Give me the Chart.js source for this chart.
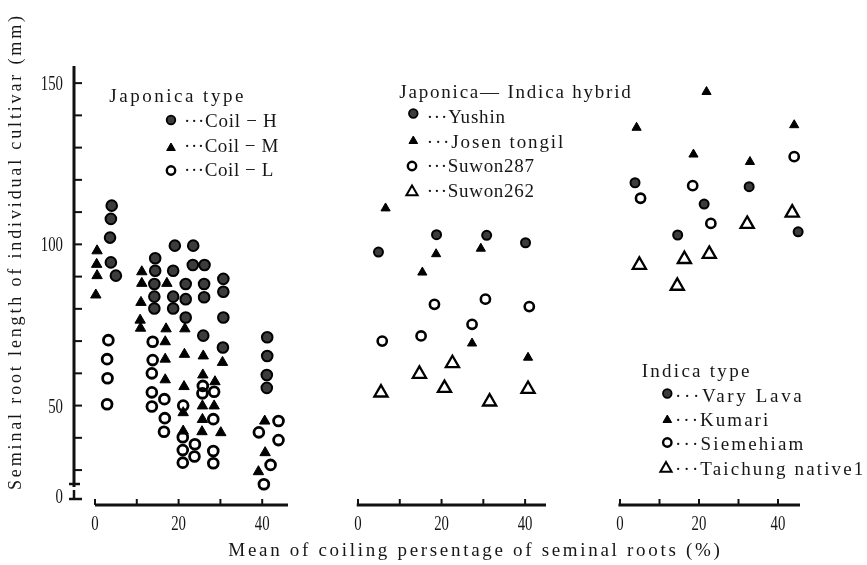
<!DOCTYPE html>
<html><head><meta charset="utf-8">
<script src="https://cdn.jsdelivr.net/npm/chart.js@4.4.0/dist/chart.umd.min.js"></script>
<style>
html,body{margin:0;padding:0;background:#fff;}
#wrap{position:relative;width:867px;height:565px;overflow:hidden;background:#fff;}
canvas{position:absolute;left:0;top:0;}
</style>
</head><body>
<div id="wrap">
<canvas id="c1" width="867" height="565"></canvas>
<canvas id="c2" width="867" height="565"></canvas>
<canvas id="c3" width="867" height="565"></canvas>
</div>
<script>
// ---------------- DATA ----------------
// x = mean coiling percentage of seminal roots (%), y = seminal root length (mm)
// Japonica type
const coilH = [[4.0,112.0],[3.8,107.9],[3.6,102.1],[3.8,94.4],[5.0,90.3],[14.4,95.7],[19.1,99.6],[23.5,99.6],
  [14.4,91.8],[18.7,91.8],[23.4,93.6],[26.2,93.6],[14.2,87.7],[21.7,87.7],[26.1,87.7],[30.7,89.3],
  [14.2,83.8],[18.7,83.8],[21.7,83.0],[26.1,83.6],[30.7,85.3],[14.2,80.1],[18.7,80.1],[21.7,77.3],
  [30.7,77.3],[25.9,71.7],[30.6,68.0],[41.2,71.2],[41.2,65.4],[41.1,59.5],[41.1,55.5]];
const coilM = [[0.5,98.0],[0.4,93.8],[0.5,90.3],[0.2,84.3],[11.2,91.5],[11.2,87.9],[17.2,87.9],[11.0,82.0],
  [10.8,76.5],[10.9,74.0],[17.0,73.8],[21.5,73.8],[16.8,69.8],[16.8,64.4],[21.4,65.9],[25.9,65.4],
  [30.5,63.4],[16.8,58.0],[21.3,55.9],[25.8,59.5],[28.7,57.4],[21.1,47.8],[25.7,49.9],[28.5,49.9],
  [25.7,45.7],[21.1,42.1],[25.6,41.9],[30.1,41.6],[40.6,45.2],[40.7,35.4],[39.1,29.5]];
const coilL = [[3.2,70.3],[2.9,64.4],[3.0,58.5],[2.9,50.4],[13.8,69.8],[13.8,64.1],[13.6,60.0],[13.6,54.1],
  [13.6,49.7],[16.6,52.0],[16.7,46.1],[16.5,41.9],[21.1,50.0],[21.0,40.2],[23.9,38.0],[21.0,36.2],
  [23.8,34.2],[21.0,32.3],[25.8,56.1],[25.7,53.8],[28.5,54.3],[28.3,45.8],[28.3,35.9],[28.3,32.1],
  [43.9,45.2],[39.2,41.7],[43.9,39.3],[42.0,31.6],[40.4,25.6]];
// Japonica-Indica hybrid
const yushin = [[4.9,97.6],[18.8,103.0],[30.8,102.8],[40.1,100.5]];
const josenTongil = [[6.6,111.2],[18.7,97.0],[29.4,98.7],[15.4,91.3],[27.3,69.3],[40.7,64.9]];
const suwon287 = [[18.3,81.4],[30.5,83.0],[41.0,80.7],[27.3,75.2],[15.1,71.6],[5.8,70.0]];
const suwon262 = [[22.6,63.1],[14.7,59.8],[5.5,54.0],[20.7,55.4],[31.5,51.2],[40.7,55.1]];
// Indica type
const varyLava = [[3.8,119.1],[32.7,117.9],[21.3,112.5],[14.6,102.9],[45.1,103.9]];
const kumari = [[21.9,147.3],[4.2,136.2],[44.1,137.0],[18.6,127.9],[32.9,125.6]];
const siemehiam = [[44.1,127.2],[18.4,118.2],[5.2,114.3],[23.0,106.5]];
const taichungNative1 = [[43.6,109.8],[32.2,106.3],[22.6,97.0],[16.3,95.4],[4.9,93.6],[14.5,87.1]];

// ticks
const xTickValues = [0,10,20,30,40];
const xTickLabels = ['0','','20','','40'];
const yTickValues = [30,40,50,60,70,80,90,100,110,120,130,140,150];
const yTickLabels = ['','','50','','','','','100','','','','','150'];

// labels
const yTitle = 'Seminal root length of individual cultivar (mm)';
const xTitle = 'Mean of coiling persentage of seminal roots (%)';

// ---------------- STYLE / LAYOUT ----------------
const INK = '#161616';
const Y_MIN = 19.17, Y_MAX = 155.0;
const TOP = 67, BOTTOM = 505, W = 867, H = 565;
const SERIF = '"Liberation Serif","DejaVu Serif",serif';

const ST = {
  fc1: {pointStyle:'circle', radius:5.3, backgroundColor:'#3c3c3c', borderColor:'#000', borderWidth:2},
  ft1: {pointStyle:'triangle', radius:6, backgroundColor:'#000', borderColor:'#000', borderWidth:1},
  oc1: {pointStyle:'circle', radius:4.9, backgroundColor:'rgba(0,0,0,0)', borderColor:'#000', borderWidth:2.8},
  fc2: {pointStyle:'circle', radius:4.5, backgroundColor:'#3c3c3c', borderColor:'#000', borderWidth:2},
  ft2: {pointStyle:'triangle', radius:5.3, backgroundColor:'#000', borderColor:'#000', borderWidth:1},
  oc2: {pointStyle:'circle', radius:4.6, backgroundColor:'rgba(0,0,0,0)', borderColor:'#000', borderWidth:2.6},
  ot2: {pointStyle:'triangle', radius:7.6, backgroundColor:'rgba(0,0,0,0)', borderColor:'#000', borderWidth:2.3},
  fcL: {pointStyle:'circle', radius:4.3, backgroundColor:'#3c3c3c', borderColor:'#000', borderWidth:1.8},
  ftL: {pointStyle:'triangle', radius:5, backgroundColor:'#000', borderColor:'#000', borderWidth:1},
  ocL: {pointStyle:'circle', radius:4.2, backgroundColor:'rgba(0,0,0,0)', borderColor:'#000', borderWidth:2.4},
  otL: {pointStyle:'triangle', radius:6.5, backgroundColor:'rgba(0,0,0,0)', borderColor:'#000', borderWidth:2}
};

function ds(label, arr, st){
  return Object.assign({label, data: arr.map(p=>({x:p[0], y:p[1]})), clip:false,
    pointRadius: st.radius, pointHoverRadius: st.radius, pointStyle: st.pointStyle,
    pointBackgroundColor: st.backgroundColor, pointBorderColor: st.borderColor,
    pointBorderWidth: st.borderWidth, showLine:false});
}

function spacedText(ctx, str, x0, x1, baseline, font){
  ctx.save();
  ctx.font = font; ctx.fillStyle = INK; ctx.textAlign = 'left'; ctx.textBaseline = 'alphabetic';
  const chars = Array.from(str);
  const natural = ctx.measureText(str).width;
  const ls = chars.length > 1 ? (x1 - x0 - natural) / (chars.length - 1) : 0;
  if ('letterSpacing' in ctx) {
    ctx.letterSpacing = ls.toFixed(2) + 'px';
    ctx.fillText(str, x0, baseline);
  } else {
    let x = x0;
    for (const c of chars) { ctx.fillText(c, x, baseline); x += ctx.measureText(c).width + ls; }
  }
  ctx.restore();
}

function digits(ctx, str, x, baseline, align){
  ctx.save();
  ctx.font = '20px ' + SERIF; ctx.fillStyle = INK; ctx.textBaseline = 'alphabetic'; ctx.textAlign = align;
  ctx.translate(x, baseline); ctx.scale(0.74, 1);
  ctx.fillText(str, 0, 0);
  ctx.restore();
}

function marker(ctx, st, x, y){
  ctx.save();
  ctx.lineWidth = st.borderWidth; ctx.strokeStyle = st.borderColor; ctx.fillStyle = st.backgroundColor;
  ctx.beginPath();
  const r = st.radius;
  if (st.pointStyle === 'circle') ctx.arc(x, y, r, 0, Math.PI*2);
  else { ctx.moveTo(x, y - r); ctx.lineTo(x + r*0.866, y + r*0.5); ctx.lineTo(x - r*0.866, y + r*0.5); ctx.closePath(); }
  ctx.fill(); ctx.stroke();
  ctx.restore();
}

const decor = {
  id: 'decor',
  afterDraw(chart, args, opt){
    const ctx = chart.ctx, xs = chart.scales.x, ys = chart.scales.y;
    ctx.save();
    ctx.strokeStyle = '#111'; ctx.lineCap = 'butt';
    // x axis
    const ay = BOTTOM;
    ctx.lineWidth = 3;
    ctx.beginPath(); ctx.moveTo(xs.getPixelForValue(opt.xFrom), ay); ctx.lineTo(chart.chartArea.right, ay); ctx.stroke();
    ctx.lineWidth = 2;
    xTickValues.forEach((v, i) => {
      const px = xs.getPixelForValue(v);
      ctx.beginPath(); ctx.moveTo(px, ay); ctx.lineTo(px, ay - 6); ctx.stroke();
      if (xTickLabels[i]) digits(ctx, xTickLabels[i], px, 529.5, 'center');
    });
    // y axis (first panel only)
    if (opt.yAxis) {
      const ax = chart.chartArea.left;
      ctx.lineWidth = 3;
      ctx.beginPath(); ctx.moveTo(ax, TOP - 1); ctx.lineTo(ax, 487); ctx.stroke();
      ctx.lineWidth = 2;
      yTickValues.forEach((v, i) => {
        const py = ys.getPixelForValue(v);
        ctx.beginPath(); ctx.moveTo(ax, py); ctx.lineTo(ax + 8, py); ctx.stroke();
        if (yTickLabels[i]) digits(ctx, yTickLabels[i], 63, py + 7, 'right');
      });
      // axis break and zero
      ctx.lineWidth = 2.5;
      ctx.beginPath(); ctx.moveTo(ax - 5, 484); ctx.lineTo(ax + 6, 484); ctx.stroke();
      ctx.beginPath(); ctx.moveTo(ax, 490); ctx.lineTo(ax, 500); ctx.stroke();
      ctx.beginPath(); ctx.moveTo(ax - 5, 499); ctx.lineTo(ax + 8, 499); ctx.stroke();
      digits(ctx, '0', 63, 503, 'right');
      // axis titles
      ctx.save();
      ctx.translate(21, 490); ctx.rotate(-Math.PI/2);
      spacedText(ctx, yTitle, 0, 474, 0, '18px ' + SERIF);
      ctx.restore();
      spacedText(ctx, xTitle, 228.3, 720, 556, '19px ' + SERIF);
    }
    // legend
    const lg = opt.legend;
    if (lg) {
      spacedText(ctx, lg.title[0], lg.title[1], lg.title[2], lg.title[3], '19px ' + SERIF);
      lg.items.forEach(it => {
        marker(ctx, it.st, it.mx, it.my);
        spacedText(ctx, it.text, it.x0, it.x1, it.base, '19px ' + SERIF);
      });
    }
    ctx.restore();
  }
};

function makeChart(id, datasets, pad, xmin, xmax, decorOpt){
  return new Chart(document.getElementById(id), {
    type: 'scatter',
    data: { datasets },
    options: {
      responsive: false, animation: false, devicePixelRatio: 1,
      layout: { padding: { left: pad[0], right: W - pad[1], top: TOP, bottom: H - BOTTOM } },
      scales: {
        x: { type: 'linear', display: false, min: xmin, max: xmax },
        y: { type: 'linear', display: false, min: Y_MIN, max: Y_MAX }
      },
      plugins: { legend: { display: false }, tooltip: { enabled: false }, decor: decorOpt },
      events: []
    },
    plugins: [decor]
  });
}

// Panel 1: Japonica type
makeChart('c1', [
  ds('Coil-H', coilH, ST.fc1),
  ds('Coil-M', coilM, ST.ft1),
  ds('Coil-L', coilL, ST.oc1)
], [74, 288], -5.02, 46.17, {
  xFrom: 0, yAxis: true,
  legend: { title: ['Japonica type', 109.3, 243.3, 101.7], items: [
    { st: ST.fcL, mx: 171, my: 120, text: '···Coil − H', x0: 184, x1: 276.7, base: 126.7 },
    { st: ST.ftL, mx: 171, my: 148, text: '···Coil − M', x0: 184, x1: 278.3, base: 152.3 },
    { st: ST.ocL, mx: 171, my: 170.5, text: '···Coil − L', x0: 184, x1: 273.3, base: 176 }
  ]}
});

// Panel 2: Japonica-Indica hybrid
makeChart('c2', [
  ds('Yushin', yushin, ST.fc2),
  ds('Josen tongil', josenTongil, ST.ft2),
  ds('Suwon287', suwon287, ST.oc2),
  ds('Suwon262', suwon262, ST.ot2)
], [358, 546], 0, 45.0, {
  xFrom: -0.3, yAxis: false,
  legend: { title: ['Japonica— Indica hybrid', 399.3, 630.7, 98.3], items: [
    { st: ST.fcL, mx: 413.3, my: 113.5, text: '···Yushin', x0: 426.7, x1: 505, base: 122.7 },
    { st: ST.ftL, mx: 413.3, my: 141, text: '···Josen tongil', x0: 426.7, x1: 563.3, base: 148.3 },
    { st: ST.ocL, mx: 412, my: 166, text: '···Suwon287', x0: 426.7, x1: 534, base: 171.7 },
    { st: ST.otL, mx: 412, my: 192, text: '···Suwon262', x0: 426.7, x1: 534, base: 196.7 }
  ]}
});

// Panel 3: Indica type
makeChart('c3', [
  ds('Vary Lava', varyLava, ST.fc2),
  ds('Kumari', kumari, ST.ft2),
  ds('Siemehiam', siemehiam, ST.oc2),
  ds('Taichung native1', taichungNative1, ST.ot2)
], [620, 800], 0, 45.57, {
  xFrom: -0.4, yAxis: false,
  legend: { title: ['Indica type', 641.7, 749.3, 377.3], items: [
    { st: ST.fcL, mx: 667.3, my: 393.5, text: '···Vary Lava', x0: 675, x1: 801.7, base: 401.7 },
    { st: ST.ftL, mx: 667.3, my: 420, text: '···Kumari', x0: 675, x1: 768.3, base: 426 },
    { st: ST.ocL, mx: 667.3, my: 442.5, text: '···Siemehiam', x0: 675, x1: 803.3, base: 450 },
    { st: ST.otL, mx: 666, my: 468.5, text: '···Taichung native1', x0: 675, x1: 863.3, base: 475 }
  ]}
});
</script>
</body></html>
